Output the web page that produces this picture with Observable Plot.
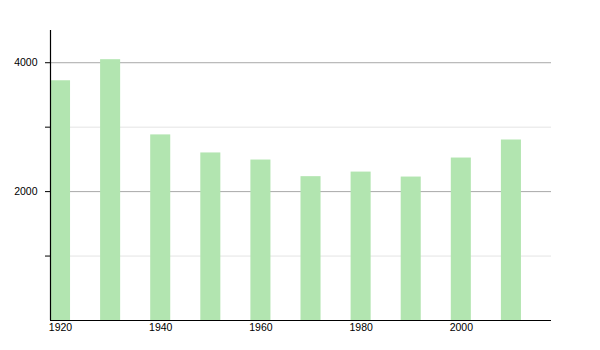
<!DOCTYPE html>
<html>
<head>
<meta charset="utf-8">
<script src="https://cdn.jsdelivr.net/npm/d3@7"></script>
<script src="https://cdn.jsdelivr.net/npm/@observablehq/plot@0.6"></script>
<style>
  html, body { margin: 0; padding: 0; background: #fff; }
  #chart svg { display: block; }
</style>
</head>
<body>
<div id="chart"></div>
<script>
const years = [1920, 1930, 1940, 1950, 1960, 1970, 1980, 1990, 2000, 2010];
const population = [3720, 4047, 2880, 2600, 2490, 2232, 2303, 2226, 2521, 2801];
const xTicks = [1920, 1940, 1960, 1980, 2000];
const yMajorTicks = [2000, 4000];
const yMinorTicks = [1000, 3000];

const data = years.map((y, i) => ({ year: y, value: population[i] }));

const chart = Plot.plot({
  width: 600,
  height: 350,
  marginLeft: 50,
  marginRight: 49,
  marginTop: 30,
  marginBottom: 30,
  style: { fontFamily: "Liberation Sans, Arial, sans-serif", fontSize: "10.5px", color: "#000", background: "#fff" },
  x: { domain: [1918, 2018] },
  y: { domain: [0, 4500] },
  marks: [
    Plot.ruleY(yMinorTicks, { stroke: "#e4e4e4", strokeOpacity: 1 }),
    Plot.ruleY(yMajorTicks, { stroke: "#a8a8a8", strokeOpacity: 1 }),
    Plot.rectY(data, { x1: d => d.year - 2, x2: d => d.year + 2, y: "value", fill: "#b2e5b0" }),
    Plot.axisY({ ticks: yMajorTicks, tickSize: 5, tickPadding: 8, tickFormat: d => String(d), label: null, strokeOpacity: 1 }),
    Plot.axisY({ ticks: yMinorTicks, tickSize: 5, tickFormat: () => "", label: null, strokeOpacity: 1 }),
    Plot.axisX({ ticks: xTicks, tickSize: 0, tickPadding: 3, tickFormat: d => String(d), label: null }),
    Plot.ruleX([1918], { stroke: "#000", strokeWidth: 1.2 }),
    Plot.ruleY([0], { stroke: "#000", strokeWidth: 1.2 })
  ]
});
document.getElementById("chart").appendChild(chart);
</script>
</body>
</html>
